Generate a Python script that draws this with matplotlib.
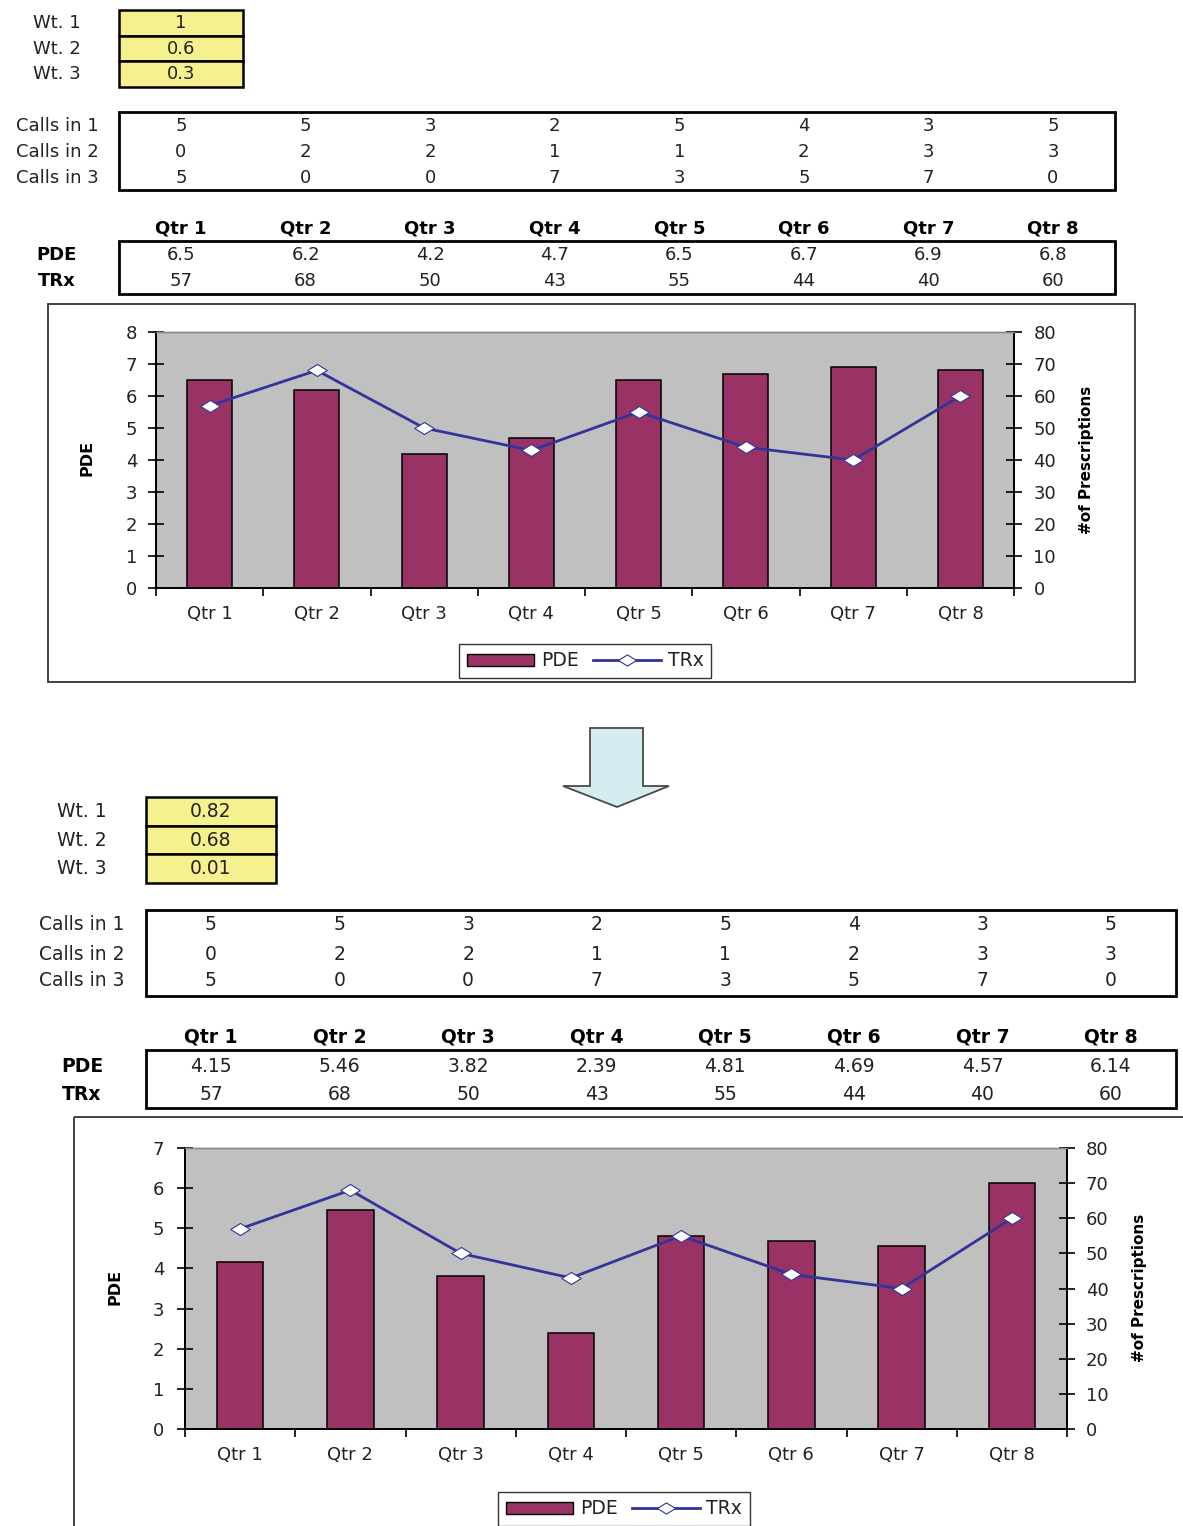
import numpy as np
import matplotlib
matplotlib.use('Agg')
import matplotlib.pyplot as plt
from matplotlib.patches import Rectangle, Polygon, Patch
from matplotlib.lines import Line2D
from matplotlib.path import Path

# ---------------- data ----------------
quarters = ['Qtr 1', 'Qtr 2', 'Qtr 3', 'Qtr 4', 'Qtr 5', 'Qtr 6', 'Qtr 7', 'Qtr 8']
weight_labels = ['Wt. 1', 'Wt. 2', 'Wt. 3']
call_labels = ['Calls in 1', 'Calls in 2', 'Calls in 3']
calls_1 = [5, 5, 3, 2, 5, 4, 3, 5]
calls_2 = [0, 2, 2, 1, 1, 2, 3, 3]
calls_3 = [5, 0, 0, 7, 3, 5, 7, 0]
weights_before = [1, 0.6, 0.3]
weights_after = [0.82, 0.68, 0.01]
pde_before = [6.5, 6.2, 4.2, 4.7, 6.5, 6.7, 6.9, 6.8]
pde_after = [4.15, 5.46, 3.82, 2.39, 4.81, 4.69, 4.57, 6.14]
trx = [57, 68, 50, 43, 55, 44, 40, 60]

# ---------------- styles ----------------
BAR = '#993366'
LINE = '#333399'
PLOTBG = '#C0C0C0'
YELLOW = '#F5F18E'
ARROW = '#D3EDF1'
TXT = '#222222'

plt.rcParams['font.family'] = ['DejaVu Sans']

W, H = 1183, 1526
fig = plt.figure(figsize=(W / 100, H / 100), dpi=100)
fig.patch.set_facecolor('white')
bg = fig.add_axes([0, 0, 1, 1])
bg.set_xlim(0, W)
bg.set_ylim(H, 0)
bg.axis('off')


def draw_tables(weights, pde, wt_box, wt_rows, calls_box, call_rows, col_x,
                header_y, pde_box, pde_rows, label_x, fs):
    # weight table
    x0, x1 = wt_box
    for i in range(3):
        bg.add_patch(Rectangle((x0, wt_rows[i]), x1 - x0, wt_rows[i + 1] - wt_rows[i],
                               facecolor=YELLOW, edgecolor='black', lw=1.8))
        yc = (wt_rows[i] + wt_rows[i + 1]) / 2
        bg.text((x0 + x1) / 2, yc, f'{weights[i]:g}', ha='center', va='center',
                fontsize=fs, color=TXT)
        bg.text(label_x, yc, weight_labels[i], ha='center', va='center',
                fontsize=fs, color=TXT)
    # calls table
    cx0, cx1 = calls_box[0]
    cy0, cy1 = calls_box[1]
    bg.add_patch(Rectangle((cx0, cy0), cx1 - cx0, cy1 - cy0, facecolor='white',
                           edgecolor='black', lw=2))
    for r, row in enumerate([calls_1, calls_2, calls_3]):
        bg.text(label_x, call_rows[r], call_labels[r], ha='center', va='center',
                fontsize=fs, color=TXT)
        for j, v in enumerate(row):
            bg.text(col_x[j], call_rows[r], str(v), ha='center', va='center',
                    fontsize=fs, color=TXT)
    # header
    for j, q in enumerate(quarters):
        bg.text(col_x[j], header_y, q, ha='center', va='center', fontsize=fs,
                fontweight='bold', color='black')
    # PDE / TRx table
    px0, px1 = calls_box[0]
    py0, py1 = pde_box
    bg.add_patch(Rectangle((px0, py0), px1 - px0, py1 - py0, facecolor='white',
                           edgecolor='black', lw=2))
    bg.text(label_x, pde_rows[0], 'PDE', ha='center', va='center', fontsize=fs,
            fontweight='bold', color='black')
    bg.text(label_x, pde_rows[1], 'TRx', ha='center', va='center', fontsize=fs,
            fontweight='bold', color='black')
    for j in range(8):
        bg.text(col_x[j], pde_rows[0], f'{pde[j]:g}', ha='center', va='center',
                fontsize=fs, color=TXT)
        bg.text(col_x[j], pde_rows[1], str(trx[j]), ha='center', va='center',
                fontsize=fs, color=TXT)


diamond = Path([(-1, 0), (0, 0.62), (1, 0), (0, -0.62), (-1, 0)],
               [Path.MOVETO, Path.LINETO, Path.LINETO, Path.LINETO, Path.CLOSEPOLY])


def draw_chart(pde, ymax, plot_px, frame_px, legend_c, pde_lab, rx_lab, lpad, rpad):
    l, t, r, b = plot_px
    fx0, fy0, fw, fh = frame_px
    bg.add_patch(Rectangle((fx0, fy0), fw, fh, fill=False, edgecolor='#333333', lw=1.3))
    ax = fig.add_axes([l / W, 1 - b / H, (r - l) / W, (b - t) / H])
    ax.set_facecolor(PLOTBG)
    x = np.arange(len(quarters))
    ax.bar(x, pde, width=0.42, color=BAR, edgecolor='black', lw=1.1, zorder=2)
    ax.set_xlim(-0.5, 7.5)
    ax.set_ylim(0, ymax)
    ax.set_yticks(np.arange(0, ymax + 1, 1))
    ax.set_xticks(np.arange(-0.5, 8, 1))
    ax.set_xticklabels([])
    ax.set_xticks(x, minor=True)
    ax.set_xticklabels(quarters, minor=True)
    ax.tick_params(axis='x', which='major', direction='out', length=6, width=1.2)
    ax.tick_params(axis='x', which='minor', length=0, pad=12, labelsize=13,
                   labelcolor=TXT)
    ax.tick_params(axis='y', direction='inout', length=11, width=1.2, pad=lpad,
                   labelsize=13, labelcolor=TXT)

    ax2 = ax.twinx()
    ax2.plot(x, trx, color=LINE, lw=2.0, marker=diamond, markersize=14,
             markerfacecolor='white', markeredgecolor=LINE, markeredgewidth=0.8,
             zorder=3)
    ax2.set_ylim(0, 80)
    ax2.set_yticks(np.arange(0, 81, 10))
    ax2.tick_params(axis='y', direction='inout', length=11, width=1.2, pad=rpad,
                    labelsize=13, labelcolor=TXT)
    for a in (ax, ax2):
        a.spines['top'].set_color('#8A8A8A')
        a.spines['top'].set_linewidth(1.0)
        for s in ('left', 'right', 'bottom'):
            a.spines[s].set_color('black')
            a.spines[s].set_linewidth(1.3)

    bg.text(pde_lab[0], pde_lab[1], 'PDE', rotation=90, ha='center', va='center',
            fontsize=11.5, fontweight='bold', color='black')
    bg.text(rx_lab[0], rx_lab[1], '#of Prescriptions', rotation=90, ha='center',
            va='center', fontsize=11, fontweight='bold', color='black')

    handles = [Patch(facecolor=BAR, edgecolor='black', lw=1.0),
               Line2D([], [], color=LINE, lw=2.0, marker=diamond, markersize=13,
                      markerfacecolor='white', markeredgecolor=LINE,
                      markeredgewidth=0.8)]
    leg = ax2.legend(handles, ['PDE', 'TRx'], loc='center', ncol=2,
                     bbox_to_anchor=(legend_c[0] / W, 1 - legend_c[1] / H),
                     bbox_transform=fig.transFigure, fontsize=13.5, frameon=True,
                     fancybox=False, handlelength=3.6, handleheight=0.6,
                     handletextpad=0.35, columnspacing=0.8, borderpad=0.4)
    leg.get_frame().set_edgecolor('black')
    leg.get_frame().set_linewidth(1.0)
    for tx in leg.get_texts():
        tx.set_color(TXT)
    return ax, ax2


# ---------------- top half ----------------
draw_tables(weights_before, pde_before,
            wt_box=(119, 243), wt_rows=[10, 36, 61, 87],
            calls_box=((119, 1115), (112, 190)), call_rows=[126, 152, 178],
            col_x=np.linspace(181, 1053, 8), header_y=229,
            pde_box=(241, 294), pde_rows=[255, 281], label_x=57, fs=13)

draw_chart(pde_before, 8, plot_px=(156, 332, 1014, 588),
           frame_px=(48, 304, 1087, 378), legend_c=(585, 661),
           pde_lab=(87, 458), rx_lab=(1087, 460), lpad=8, rpad=8.5)

# ---------------- arrow ----------------
bg.add_patch(Polygon([(590, 728), (643, 728), (643, 786), (669, 786), (617, 807),
                      (563, 786), (590, 786)], closed=True, facecolor=ARROW,
                     edgecolor='#4A4A4A', lw=1.3))

# ---------------- bottom half ----------------
draw_tables(weights_after, pde_after,
            wt_box=(146, 276), wt_rows=[797, 826, 854, 883],
            calls_box=((146, 1176), (910, 996)), call_rows=[925, 954, 981],
            col_x=np.linspace(211, 1111, 8), header_y=1037,
            pde_box=(1050, 1108), pde_rows=[1066, 1094], label_x=82, fs=13.5)

draw_chart(pde_after, 7, plot_px=(185, 1148, 1067, 1429),
           frame_px=(74, 1117, 1200, 500), legend_c=(624, 1509),
           pde_lab=(115, 1287), rx_lab=(1140, 1288), lpad=9.5, rpad=8)

fig.savefig('out.png', dpi=100)
